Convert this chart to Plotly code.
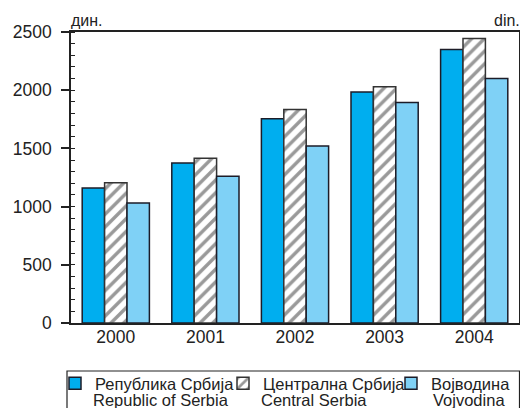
import plotly.graph_objects as go

years = ["2000", "2001", "2002", "2003", "2004"]
serbia = [1160, 1375, 1755, 1985, 2350]
central = [1205, 1415, 1835, 2030, 2445]
vojvodina = [1030, 1260, 1520, 1895, 2100]

names_sr = ["Република Србија", "Централна Србија", "Војводина"]
names_en = ["Republic of Serbia", "Central Serbia", "Vojvodina"]

FONT = "Liberation Sans, Arial, sans-serif"
LINE = "#1c1c28"
W, H = 520, 408
L, R, T, B = 71, 1, 32, 85
PW, PH = W - L - R, H - T - B
LEG = 16.5


def px(x):
    return (x - L) / PW


def py(y):
    return (H - B - y) / PH


fig = go.Figure()
fig.add_trace(go.Bar(x=years, y=serbia, name=names_sr[0],
                     marker=dict(color="#00aeef", line=dict(color=LINE, width=1.5))))
fig.add_trace(go.Bar(x=years, y=central, name=names_sr[1],
                     marker=dict(color="white", line=dict(color="#333333", width=1.5),
                                 pattern=dict(shape="/", fgcolor="#333333", bgcolor="white",
                                              size=9, solidity=0.38))))
fig.add_trace(go.Bar(x=years, y=vojvodina, name=names_sr[2],
                     marker=dict(color="#7fd1f6", line=dict(color=LINE, width=1.5))))

fig.update_layout(
    width=W, height=H,
    margin=dict(l=L, r=R, t=T, b=B, autoexpand=False),
    paper_bgcolor="white", plot_bgcolor="white",
    barmode="group", bargap=0.25, bargroupgap=0,
    font=dict(family=FONT, size=17.5, color="#222222"),
    showlegend=True,
    legend=dict(orientation="h", xref="paper", yref="paper",
                x=px(55), xanchor="left", y=py(366), yanchor="top",
                borderwidth=0, bgcolor="rgba(0,0,0,0)",
                font=dict(family=FONT, size=LEG, color="#222222"),
                valign="top", traceorder="normal", entrywidth=123,
                itemwidth=30, tracegroupgap=0),
)
fig.update_xaxes(showline=True, linecolor="#222222", linewidth=1.5, mirror=True,
                 ticks="", showgrid=False, tickfont=dict(size=17.5), range=[-0.5, 4.5],
                 ticklabelstandoff=-3)
fig.update_yaxes(range=[0, 2500], tickvals=[0, 500, 1000, 1500, 2000, 2500],
                 showline=True, linecolor="#222222", linewidth=1.5, mirror=True,
                 ticks="outside", ticklen=8, tickwidth=1.5, tickcolor="#222222",
                 minor=dict(dtick=100, ticks="inside", ticklen=4, tickwidth=1.2, tickcolor="#222222"),
                 showgrid=False, zeroline=False, tickfont=dict(size=17.5),
                 ticklabelstandoff=6)

# legend frame
fig.add_shape(type="rect", xref="paper", yref="paper",
              x0=px(67), x1=px(519.5), y0=py(371), y1=py(415),
              line=dict(color="#222222", width=1.2), fillcolor="rgba(0,0,0,0)", layer="below")

# second (English) line of legend labels
for name, xpos in zip(names_en, [93, 261, 433]):
    fig.add_annotation(text=name, xref="paper", yref="paper", x=px(xpos), y=py(400),
                       xanchor="left", yanchor="middle", showarrow=False,
                       font=dict(size=LEG), xshift=-2)

fig.add_annotation(text="дин.", xref="paper", yref="paper", x=0, y=1, xanchor="left",
                   yanchor="bottom", showarrow=False, font=dict(size=16), xshift=-2, yshift=1)
fig.add_annotation(text="din.", xref="paper", yref="paper", x=1, y=1, xanchor="right",
                   yanchor="bottom", showarrow=False, font=dict(size=16), xshift=3, yshift=1)

fig.write_html("out.html", config={"displayModeBar": False},
               post_script="document.body.style.margin='0';document.body.style.overflow='hidden';")
